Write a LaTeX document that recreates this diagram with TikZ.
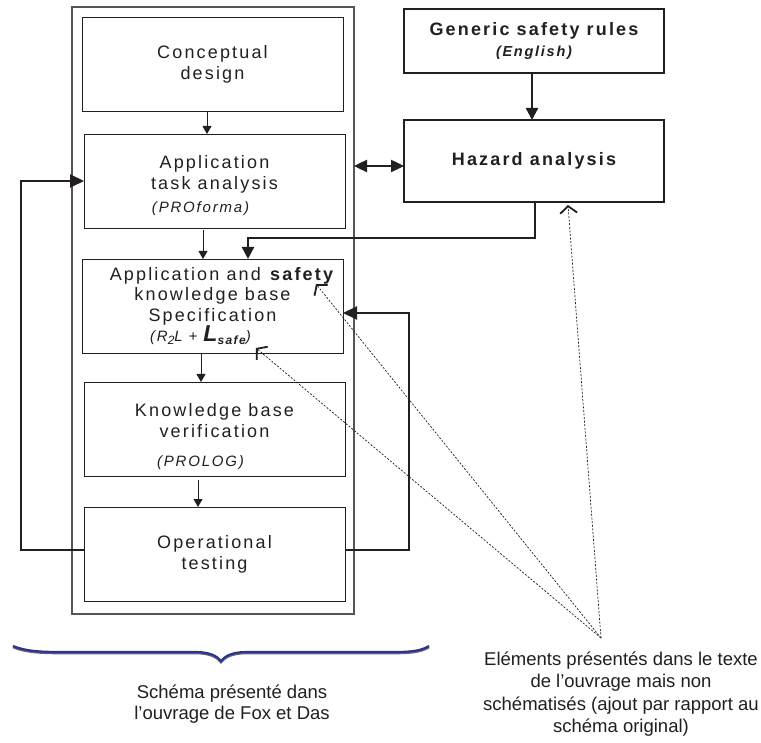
\documentclass[tikz,border=0pt]{standalone}
\usepackage{fontspec}
\setmainfont{Liberation Sans}
\newfontfamily\spaced[LetterSpace=12]{Liberation Sans}
\usetikzlibrary{arrows.meta,calc}
\definecolor{ink}{HTML}{231F20}
\definecolor{frame}{HTML}{555555}
\definecolor{bracenavy}{HTML}{2B3590}
\begin{document}
\begin{tikzpicture}[x=1pt,y=-1pt,
  stage/.style={draw=ink, line width=0.9pt, minimum width=261pt, minimum height=94pt,
    inner sep=0pt, outer sep=0pt, align=center, text=ink,
    font=\spaced\fontsize{18}{21}\selectfont},
  safebox/.style={draw=ink, line width=2.4pt, minimum width=260pt, inner sep=0pt,
    outer sep=0pt, align=center, text=ink,
    font=\spaced\bfseries\fontsize{18}{21}\selectfont},
  flow/.style={draw=ink, line width=0.9pt, -{Triangle[length=8pt,width=9pt]}},
  loop/.style={draw=ink, line width=2pt, -{Triangle[length=14pt,width=13pt]}},
  feed/.style={draw=ink, line width=2.4pt, -{Triangle[length=12pt,width=12pt]}},
  link/.style={draw=ink, line width=2.4pt,
    {Triangle[length=13pt,width=12pt]}-{Triangle[length=13pt,width=12pt]}},
  note/.style={draw=ink, line width=0.7pt, dash pattern=on 2pt off 1.6pt,
    -{Straight Barb[length=7pt,width=17pt,line width=1.8pt]}},
  caption/.style={text=ink, align=center, font=\fontsize{18.5}{22.5}\selectfont},
]
\fill[white] (0,0) rectangle (761,743);
\useasboundingbox (0,0) rectangle (761,743);

% frame around the original method
\node[draw=frame, line width=1.2pt, minimum width=282pt, minimum height=607pt,
      outer sep=0pt] (outer) at (213,310.5) {};

% stages of the method
\node[stage] (cd) at (212.5,64) {Conceptual\\design};
\node[stage] (ta) at (214.5,181)
  {\rule{0pt}{23pt}Application\\task analysis\\[2pt]{\itshape\fontsize{15}{18}\selectfont (PROforma)}\hspace*{28pt}};
\node[stage, font=\spaced\fontsize{18}{20.5}\selectfont] (kb) at (212.5,306)
  {\hspace*{20pt}Application and \textbf{safety}\\knowledge base\\Specification\\
   {\itshape\fontsize{15}{18}\selectfont (R\raisebox{-3pt}{\fontsize{12}{12}\selectfont 2}L
   + {\bfseries\fontsize{23}{23}\selectfont L}\raisebox{-3pt}{\bfseries\fontsize{12}{12}\selectfont safe})}\hspace*{24pt}};
\node[stage] (kv) at (214.5,429)
  {\rule{0pt}{28pt}Knowledge base\\verification\\[8pt]{\itshape\fontsize{15}{18}\selectfont (PROLOG)}\hspace*{28pt}};
\node[stage] (ot) at (214.5,554) {Operational\\testing};

% safety additions
\node[safebox, minimum height=64pt] (gen) at (534,41)
  {Generic safety rules\\{\itshape\fontsize{14.5}{17}\selectfont (English)}};
\node[safebox, minimum height=82pt] (hz) at (534,161) {Hazard analysis};

% captions
\node[caption, font=\fontsize{18.5}{21}\selectfont] (cap1) at (232,704)
  {Schéma présenté dans\\l’ouvrage de Fox et Das};
\node[caption] (cap2) at (621,694)
  {Eléments présentés dans le texte\\de l’ouvrage mais non\\schématisés (ajout par rapport au\\schéma original)};

% brace under the method
\path[draw=black!60, line width=2.6pt]
  (13,647) .. controls (25,652) and (40,653) .. (60,653) -- (195,653)
  .. controls (210,653) and (217,657) .. (221,662)
  .. controls (225,657) and (232,653) .. (247,653) -- (395,653)
  .. controls (415,653) and (422,651) .. (429,647);
\path[draw=bracenavy, line width=2.2pt]
  (13,646) .. controls (25,651) and (40,652) .. (60,652) -- (195,652)
  .. controls (210,652) and (217,656) .. (221,661)
  .. controls (225,656) and (232,652) .. (247,652) -- (395,652)
  .. controls (415,652) and (422,650) .. (429,646);

% flow of the method
\draw[flow] ([xshift=-5.5pt]cd.south) -- ([xshift=-5.5pt]cd.south |- ta.north);
\draw[flow, shorten <=2pt] ([xshift=-11.5pt]ta.south) -- ([xshift=-11.5pt]ta.south |- kb.north);
\draw[flow] ([xshift=-11.5pt]kb.south) -- ([xshift=-11.5pt]kb.south |- kv.north);
\draw[flow, shorten <=4pt] ([xshift=-16.5pt]kv.south) -- ([xshift=-16.5pt]kv.south |- ot.north);

% feedback loops
\coordinate (lbend) at (21,181);
\draw[loop] ([yshift=4pt]ot.west) -| (lbend) -- (ta.west);
\coordinate (rbend) at (409,313);
\draw[loop] ([yshift=4pt]ot.east) -| (rbend) -- (rbend -| kb.east);

% safety links
\draw[link] ([yshift=-5pt]hz.west -| outer.east) -- ([yshift=-5pt]hz.west);
\draw[feed] ([xshift=-2pt]gen.south) -- ([xshift=-2pt]gen.south |- hz.north);
\coordinate (hbend) at (248,238);
\draw[feed] ([xshift=1pt]hz.south) |- (hbend) -- (hbend |- kb.north);

% pointers from the note
\coordinate (src) at (601,638);
\coordinate (tsafety) at (316,284);
\coordinate (tlsafe) at (256,348);
\draw[note] (src) -- ([xshift=34pt,yshift=-3pt]hz.south);
\draw[note] (src) -- (tsafety);
\draw[note] (src) -- (tlsafe);
\end{tikzpicture}
\end{document}
